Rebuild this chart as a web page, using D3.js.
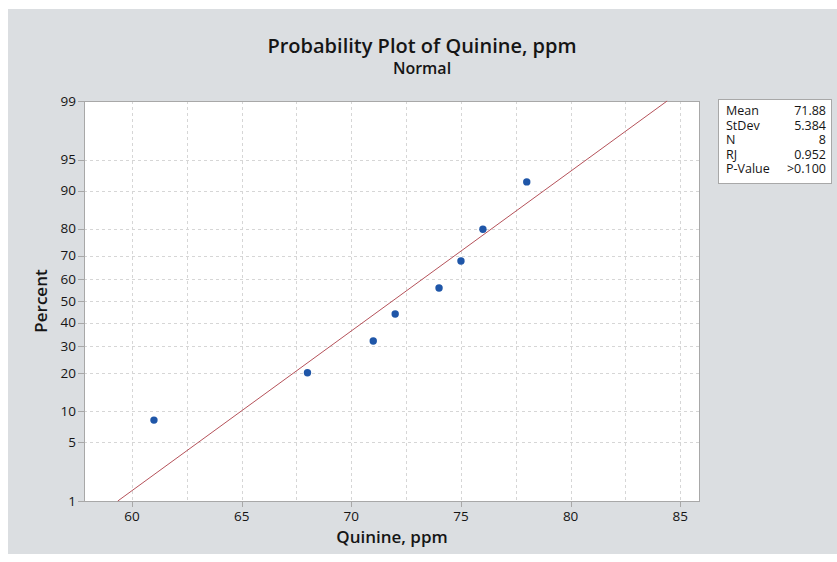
<!DOCTYPE html>
<html>
<head>
<meta charset="utf-8">
<script src="https://cdn.jsdelivr.net/npm/d3@7"></script>
<style>
  body { margin: 0; background: #fff; }
  svg text { font-family: "Open Sans", "Noto Sans", sans-serif; fill: #151515; }
</style>
</head>
<body>
<svg id="chart" width="837" height="562"></svg>
<script>
// data
var quinine = [61, 68, 71, 72, 74, 75, 76, 78];
var percent = [8.3, 20.2, 32.1, 44.0, 56.0, 67.9, 79.8, 91.7];
var xTicks = [60, 65, 70, 75, 80, 85];
var xGrid = [60, 62.5, 65, 67.5, 70, 72.5, 75, 77.5, 80, 82.5, 85];
var yTicks = [1, 5, 10, 20, 30, 40, 50, 60, 70, 80, 90, 95, 99];
var statLabels = ["Mean", "StDev", "N", "RJ", "P-Value"];
var statValues = ["71.88", "5.384", "8", "0.952", ">0.100"];
var fitMean = 71.875, fitSd = 5.384;

// inverse normal cdf (Acklam)
function probit(p) {
  var a = [-39.69683028665376, 220.9460984245205, -275.9285104469687, 138.3577518672690, -30.66479806614716, 2.506628277459239];
  var b = [-54.47609879822406, 161.5858368580409, -155.6989798598866, 66.80131188771972, -13.28068155288572];
  var c = [-0.007784894002430293, -0.3223964580411365, -2.400758277161838, -2.549732539343734, 4.374664141464968, 2.938163982698783];
  var d = [0.007784695709041462, 0.3224671290700398, 2.445134137142996, 3.754408661907416];
  var q, r;
  if (p < 0.02425) {
    q = Math.sqrt(-2 * Math.log(p));
    return (((((c[0]*q+c[1])*q+c[2])*q+c[3])*q+c[4])*q+c[5]) / ((((d[0]*q+d[1])*q+d[2])*q+d[3])*q+1);
  } else if (p > 1 - 0.02425) {
    q = Math.sqrt(-2 * Math.log(1 - p));
    return -(((((c[0]*q+c[1])*q+c[2])*q+c[3])*q+c[4])*q+c[5]) / ((((d[0]*q+d[1])*q+d[2])*q+d[3])*q+1);
  }
  q = p - 0.5; r = q * q;
  return (((((a[0]*r+a[1])*r+a[2])*r+a[3])*r+a[4])*r+a[5])*q / (((((b[0]*r+b[1])*r+b[2])*r+b[3])*r+b[4])*r+1);
}

var svg = d3.select("#chart");
var L = 84, T = 101, R = 700, B = 501;

// background panel
svg.append("rect").attr("x", 8).attr("y", 9).attr("width", 829).attr("height", 545).attr("fill", "#dbdee1");
svg.append("rect").attr("x", L).attr("y", T).attr("width", R - L).attr("height", B - T).attr("fill", "#fff");

var x = d3.scaleLinear().domain([57.81, 85.9]).range([L, R]);
var zScale = d3.scaleLinear().domain([probit(0.01), probit(0.99)]).range([B, T]);
var y = function(p) { return zScale(probit(p / 100)); };

// gridlines
var grid = svg.append("g").attr("stroke", "#d6d6d6").attr("stroke-dasharray", "3,3").attr("stroke-width", 1);
grid.selectAll("line.v").data(xGrid).enter().append("line")
  .attr("x1", function(d) { return Math.round(x(d)) + 0.5; })
  .attr("x2", function(d) { return Math.round(x(d)) + 0.5; })
  .attr("y1", T).attr("y2", B);
grid.selectAll("line.h").data(yTicks.slice(1, -1)).enter().append("line")
  .attr("y1", function(d) { return Math.round(y(d)) + 0.5; })
  .attr("y2", function(d) { return Math.round(y(d)) + 0.5; })
  .attr("x1", L).attr("x2", R);

// frame
svg.append("rect").attr("x", L + 0.5).attr("y", T + 0.5).attr("width", R - L - 1).attr("height", B - T)
  .attr("fill", "none").attr("stroke", "#a8a8a8");

// axes ticks
var axisG = svg.append("g");
axisG.selectAll("line.xt").data(xTicks).enter().append("line")
  .attr("x1", function(d) { return Math.round(x(d)) + 0.5; })
  .attr("x2", function(d) { return Math.round(x(d)) + 0.5; })
  .attr("y1", B + 1).attr("y2", B + 6).attr("stroke", "#a8a8a8");
axisG.selectAll("text.xt").data(xTicks).enter().append("text")
  .attr("x", function(d) { return x(d); }).attr("y", B + 20)
  .attr("text-anchor", "middle").attr("font-size", 13.5).text(function(d) { return d; });
axisG.selectAll("line.yt").data(yTicks).enter().append("line")
  .attr("y1", function(d) { return Math.round(y(d)) + 0.5; })
  .attr("y2", function(d) { return Math.round(y(d)) + 0.5; })
  .attr("x1", L - 6).attr("x2", L).attr("stroke", "#a8a8a8");
axisG.selectAll("text.yt").data(yTicks).enter().append("text")
  .attr("x", L - 8).attr("y", function(d) { return y(d) + 4.5; })
  .attr("text-anchor", "end").attr("font-size", 13.5).text(function(d) { return d; });

// fitted line
var lineP = [1, 99];
svg.append("line")
  .attr("x1", x(fitMean + probit(lineP[0] / 100) * fitSd)).attr("y1", y(lineP[0]))
  .attr("x2", x(fitMean + probit(lineP[1] / 100) * fitSd)).attr("y2", y(lineP[1]))
  .attr("stroke", "#b5525a").attr("stroke-width", 1);

// points
svg.selectAll("circle.pt").data(quinine).enter().append("circle")
  .attr("cx", function(d) { return x(d); })
  .attr("cy", function(d, i) { return y(percent[i]); })
  .attr("r", 3.7).attr("fill", "#1f56a8");

// titles
svg.append("text").attr("x", 422).attr("y", 53).attr("text-anchor", "middle")
  .attr("font-size", 20).attr("font-weight", 600).text("Probability Plot of Quinine, ppm");
svg.append("text").attr("x", 422).attr("y", 74).attr("text-anchor", "middle")
  .attr("font-size", 16).attr("font-weight", 600).text("Normal");
svg.append("text").attr("x", (L + R) / 2).attr("y", 543).attr("text-anchor", "middle")
  .attr("font-size", 17).attr("font-weight", 600).text("Quinine, ppm");
svg.append("text").attr("transform", "translate(47," + ((T + B) / 2) + ") rotate(-90)")
  .attr("text-anchor", "middle").attr("font-size", 17).attr("font-weight", 600).text("Percent");

// stats box
var box = svg.append("g").attr("transform", "translate(718,99)");
box.append("rect").attr("x", 0.5).attr("y", 0.5).attr("width", 113).attr("height", 84)
  .attr("fill", "#fff").attr("stroke", "#a8a8a8");
box.selectAll("text.lab").data(statLabels).enter().append("text")
  .attr("x", 8).attr("y", function(d, i) { return 16 + i * 14.6; })
  .attr("font-size", 12.5).attr("font-weight", 500).text(function(d) { return d; });
box.selectAll("text.val").data(statValues).enter().append("text")
  .attr("x", 108).attr("y", function(d, i) { return 16 + i * 14.6; })
  .attr("text-anchor", "end").attr("font-size", 12.5).attr("font-weight", 500).text(function(d) { return d; });
</script>
</body>
</html>
